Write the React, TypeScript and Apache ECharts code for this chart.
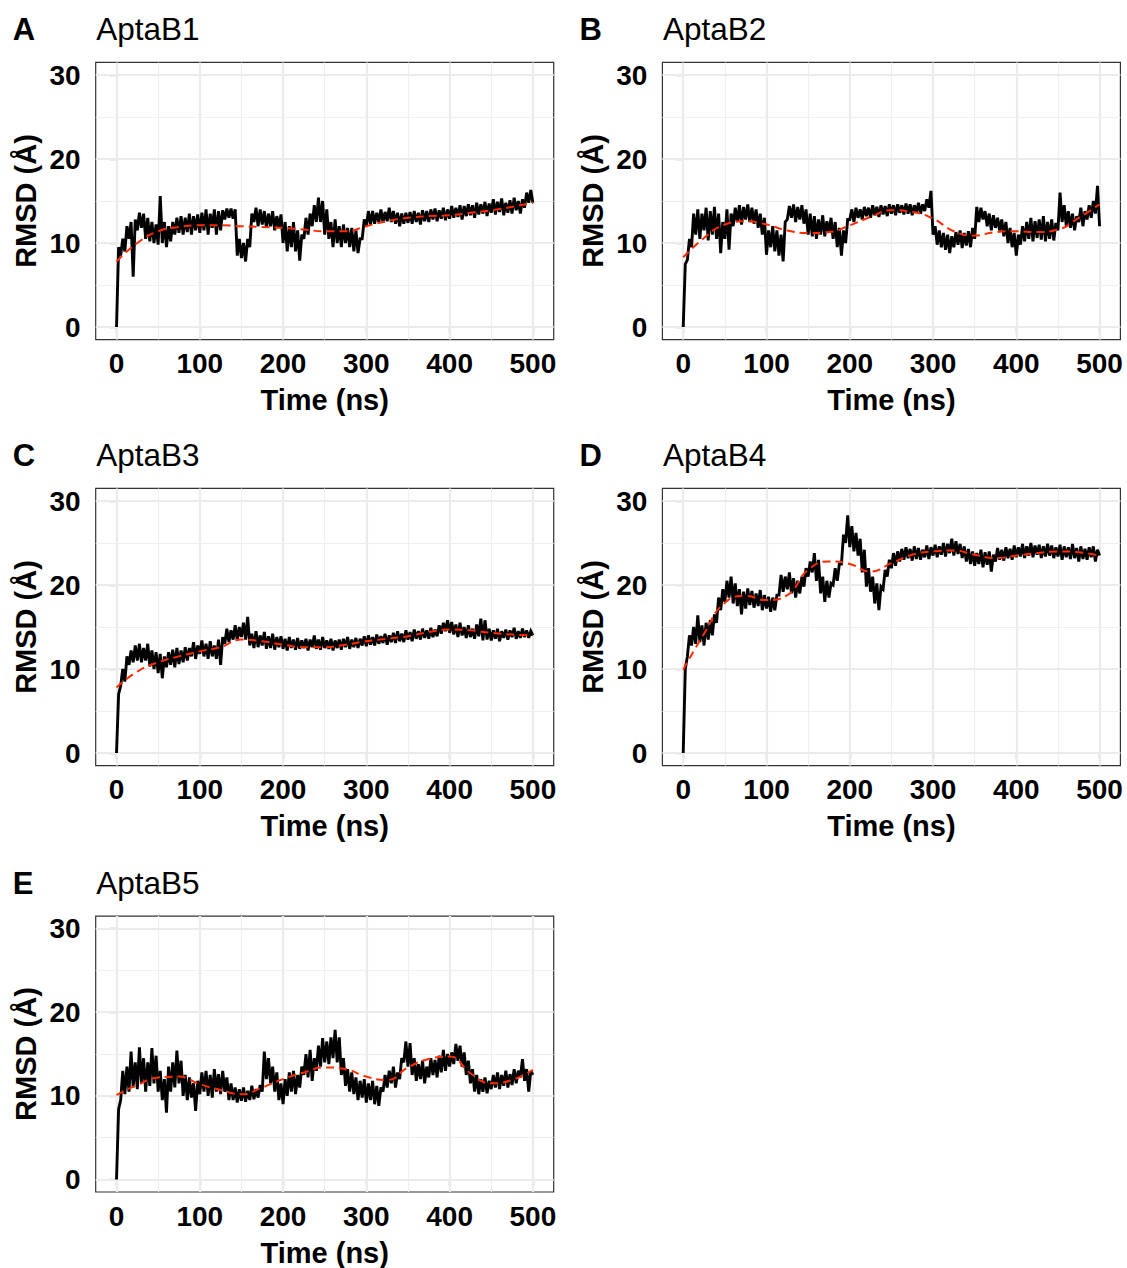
import React, { useEffect, useRef } from "react";
import * as echarts from "echarts";

// Trajectories are read as a noisy band: lower edge at t = 0,5,...,500 ns,
// upper edge at t = 2.5,7.5,...,497.5 ns.
const TIME_STEP = 5;
const X_TICKS = [0, 100, 200, 300, 400, 500];
const Y_TICKS = [0, 10, 20, 30];
const X_GRID_MAJOR = [0, 100, 200, 300, 400, 500];
const X_GRID_MINOR = [50, 150, 250, 350, 450];
const Y_GRID_MAJOR = [0, 10, 20, 30];
const Y_GRID_MINOR = [5, 15, 25];

// ---------- AptaB1 ----------
const LO_A = [
  0, 8.5, 9, 10.5, 6, 11.5, 11.8, 10.5, 10.2, 10,
  9.8, 10, 9.5, 10.2, 11, 11.2, 11, 11.3, 11, 11.5,
  11.2, 11.5, 11, 11.8, 11, 11.5, 12.8, 13, 12.9, 8.5,
  8.2, 7.8, 9.5, 12.5, 12, 12.2, 11.8, 12, 11.5, 11.8,
  10, 9, 9.5, 9, 7.9, 10.5, 11, 12, 12.5, 12.5,
  11, 10.5, 9.5, 10, 9.5, 10, 9.5, 9, 8.8, 10.5,
  12, 12.2, 12.3, 12.5, 12.4, 12.6, 12.5, 12.3, 12, 12.3,
  12.4, 12.3, 12.5, 12.2, 12.6, 12.5, 12.8, 12.6, 12.9, 12.7,
  12.9, 13, 13.1, 12.8, 13.2, 13.3, 13, 13.4, 13.5, 13.2,
  13.6, 13.4, 13.7, 13.3, 13.6, 13.5, 13.9, 13.5, 14.2, 14.8,
  14.8,
];
const HI_A = [
  9.5, 10.5, 12, 12.5, 12.8, 13.6, 13.5, 13, 12.5, 12.2,
  15.6, 12.5, 12, 12.5, 13, 13.2, 13, 13.5, 13.2, 13.4,
  13.6, 14, 13.5, 14, 13.8, 13.9, 14.1, 14.1, 14, 10.5,
  10, 10.5, 13.5, 14.2, 14, 13.8, 13.5, 13.8, 13.2, 13.4,
  12.5, 12, 12.5, 11.5, 11, 13, 13.5, 14.5, 15.4, 15,
  14, 12.5, 12.8, 12, 12.2, 11.8, 11.8, 11.5, 10.5, 12.8,
  13.8, 13.8, 13.6, 14, 13.7, 14.2, 13.8, 13.6, 13.5, 13.6,
  13.7, 13.8, 13.6, 13.9, 13.8, 14, 14.1, 13.9, 14.2, 14,
  14.4, 14.2, 14.5, 14.4, 14.6, 14.5, 14.8, 14.6, 14.9, 14.7,
  15.2, 14.9, 15.3, 14.8, 15.1, 15.4, 15, 15.2, 16, 16.3,
];

// ---------- AptaB2 ----------
const LO_B = [
  0, 8, 9.5, 11, 10.5, 11.5, 10.3, 11, 10.5, 8.8,
  10.5, 9.2, 12, 12.5, 12.2, 12.8, 12.5, 12.3, 11.8, 11,
  8.6, 9.5, 9, 8.5, 7.8, 12.8, 13, 12.5, 12.8, 12.3,
  11, 10.8, 10.5, 11, 10.8, 11.2, 10.5, 9.5, 8.5, 10,
  12.8, 12.5, 13, 12.8, 13.2, 13, 13.3, 13.1, 13.4, 13.2,
  13.5, 13.3, 13.6, 13.4, 13.5, 13.3, 13.6, 13.5, 13.8, 14.2,
  11, 9.8, 9.5, 9.2, 8.8, 9.5, 9.8, 9.4, 9.7, 9.5,
  10.5, 12.5, 12.8, 12, 11.5, 11.8, 11.5, 10.8, 10, 9.5,
  8.5, 9.8, 10.2, 10.5, 10.2, 10.6, 10.4, 10.2, 10.5, 10.3,
  11.5, 12.5, 12, 11.8, 11.5, 12.5, 12, 12.8, 13, 13.5,
  12,
];
const HI_B = [
  7.5, 10.5, 13.5, 14, 13.5, 14.2, 13.8, 14.3, 13.5, 12.5,
  14, 13.5, 14.2, 14.5, 14.3, 14.6, 14.2, 14, 13.5, 13,
  11.5, 12, 11.5, 11, 12.5, 14.4, 14.6, 14.3, 14.5, 14,
  13.5, 13.2, 12.8, 13.3, 12.6, 13, 12.5, 11.8, 11.5, 12.8,
  14, 14.2, 14, 14.3, 14.2, 14.5, 14.3, 14.5, 14.4, 14.6,
  14.5, 14.6, 14.5, 14.7, 14.6, 14.5, 14.8, 14.6, 15.2, 16.2,
  12, 11.5, 11.2, 11, 10.8, 11.3, 11.5, 11.2, 11.4, 11.8,
  14.3, 14.2, 13.8, 13.5, 13.3, 13, 12.8, 12.5, 11.8, 11.2,
  11, 12, 12.5, 13, 12.6, 12.8, 13.2, 12.5, 12.8, 12.4,
  16, 14.5, 13.8, 13.5, 13.2, 14.2, 13.8, 14.5, 15, 16.8,
];

// ---------- AptaB3 ----------
const LO_C = [
  0, 8, 8.5, 10.5, 10.8, 11, 10.8, 11, 10.3, 10,
  9.5, 8.9, 10.2, 10.5, 10.2, 10.6, 10.8, 11, 11.5, 11.2,
  11.8, 11.5, 11.2, 11.5, 11.2, 10.5, 13, 13.2, 13.5, 13.4,
  13.8, 13.5, 12.8, 12.5, 12.6, 12.8, 12.4, 12.5, 12.3, 12.6,
  12.4, 12.2, 12.5, 12.3, 12.4, 12.5, 12.2, 12.6, 12.4, 12.3,
  12.5, 12.4, 12.2, 12.5, 12.3, 12.6, 12.4, 12.6, 12.5, 12.8,
  12.7, 12.9, 12.8, 13, 13.1, 12.9, 13.2, 13.1, 13.3, 13.2,
  13.5, 13.3, 13.6, 13.5, 13.7, 13.6, 13.8, 13.9, 14.2, 14.5,
  14.3, 14.1, 13.8, 14, 13.7, 13.8, 13.6, 13.9, 13.4, 13.5,
  13.4, 13.6, 13.3, 13.7, 13.5, 13.8, 13.6, 13.7, 13.8, 13.7,
  14,
];
const HI_C = [
  7, 10, 11.5, 12.2, 12.8, 13, 12.5, 13, 12.2, 12,
  11.8, 11.5, 12, 12.3, 12.5, 12.2, 12.6, 12.5, 13.2, 12.8,
  13.4, 13, 13.3, 12.8, 13.5, 13.8, 14.8, 14.6, 15.2, 15,
  15.5, 16.2, 14.2, 14.5, 14, 14.4, 13.9, 14.2, 13.8, 13.9,
  13.6, 13.8, 13.5, 13.7, 13.4, 13.6, 13.5, 14, 13.5, 13.8,
  13.4, 13.6, 13.4, 13.5, 13.6, 13.8, 13.5, 13.7, 13.6, 13.9,
  14, 13.8, 14.1, 13.9, 14.2, 14, 14.3, 14.5, 14.2, 14.6,
  14.4, 14.7, 14.5, 14.8, 14.6, 14.9, 14.7, 15.2, 15.5, 15.8,
  15.6, 15.3, 15.5, 15, 15.2, 14.8, 15.3, 16, 15.8, 14.8,
  14.6, 14.8, 14.5, 14.7, 14.6, 14.9, 14.5, 14.8, 14.6, 14.5,
];

// ---------- AptaB4 ----------
const LO_D = [
  0, 11.5, 12.8, 13, 13.2, 12.8, 13.5, 14, 15.5, 17,
  18, 18.5, 17.8, 17.5, 16.5, 17.2, 17.6, 17.3, 17.5, 17,
  17.2, 16.8, 17, 18.8, 19.2, 19.5, 19, 18.5, 19, 19.8,
  21, 21.5, 20.5, 19, 18, 18.5, 20, 20.5, 22.5, 25,
  24.5, 24, 23.5, 21.5, 19.8, 19.2, 17.8, 17, 19.5, 21,
  22, 22.3, 22.8, 23, 23.2, 22.9, 23.1, 23, 23.3, 23.1,
  23.5, 23.3, 23.6, 23.4, 23.8, 23.5, 23.7, 23.2, 22.8, 22.5,
  22.3, 22.5, 22.1, 22.4, 21.6, 22.8, 23, 22.9, 23.2, 23,
  23.3, 23.4, 23.2, 23.5, 23.3, 23.6, 23.2, 23.4, 23.5, 23.2,
  23.4, 23, 23.3, 23.1, 23.2, 22.8, 23.1, 23, 23.3, 22.8,
  23.5,
];
const HI_D = [
  10, 14, 15, 16.4, 15.2, 15.5, 15.8, 16.5, 18.5, 19.5,
  20.5, 21, 20.2, 19.5, 19.2, 19.6, 19.3, 19, 19.4, 18.8,
  18.6, 18.5, 18.8, 21.2, 21, 21.5, 20.8, 20.5, 21, 22,
  22.8, 23.8, 23, 21, 20.5, 20.2, 22, 22.5, 26, 28.3,
  27, 26.2, 25.5, 24.2, 22, 21, 20.2, 19.8, 21.8, 23,
  23.8, 24, 24.3, 24.5, 24.3, 24.6, 24.4, 24.2, 24.7, 24.5,
  24.8, 24.6, 25, 24.9, 25.5, 25.2, 24.9, 24.6, 24.3, 24,
  23.8, 24.2, 23.9, 24, 23.6, 24.4, 24.2, 24.5, 24.3, 24.7,
  24.5, 24.9, 24.6, 25, 24.7, 24.8, 24.6, 24.9, 24.7, 24.5,
  24.8, 24.6, 24.5, 24.9, 24.4, 24.6, 24.3, 24.5, 24.6, 24.2,
];

// ---------- AptaB5 ----------
const LO_E = [
  0, 9.5, 10.2, 10.5, 11, 10.8, 11.5, 10.5, 11.2, 11.5,
  10.5, 9.5, 8, 10.5, 11, 11.5, 10, 9.5, 9.8, 8.2,
  10.2, 10.5, 10, 9.8, 10.5, 10.2, 10.5, 9.5, 9.5, 9.2,
  9.4, 9.3, 9.5, 9.6, 9.8, 10.5, 12, 11.5, 10.5, 9.5,
  9, 10, 10.5, 10.2, 11, 12.5, 12.2, 11.8, 13, 13.5,
  14, 13.8, 14.5, 14, 12.5, 11.2, 10.5, 10.2, 9.5, 9.8,
  9.2, 9.5, 9, 8.8, 10.5, 11, 11.5, 11, 12, 14,
  13.5, 12.5, 11.8, 12, 11.5, 12.2, 12.5, 12.2, 12.8, 13,
  13.5, 13.8, 14.2, 13.5, 12.5, 11.5, 10.5, 10.2, 10.5, 10.3,
  10.8, 11, 10.8, 11.2, 11, 11.3, 11.5, 12.2, 11.8, 10.5,
  12.5,
];
const HI_E = [
  8.4, 13, 13.5, 15.3, 14, 15.8, 14.5, 14, 15.7, 14.8,
  13, 12, 13.5, 14, 15.4, 14.2, 12.5, 12.2, 11.5, 11.8,
  12.8, 13, 12.5, 13.2, 12.6, 13, 12.2, 11.5, 11, 10.8,
  11, 10.6, 11.2, 10.8, 11.3, 15.3, 14.5, 13.5, 12.8, 11.5,
  12, 12.8, 13, 12.5, 13.5, 15, 15.5, 14.5, 16, 16.9,
  16.5, 17, 17.9, 17, 14.5, 13.2, 12.8, 12.2, 11.8, 12,
  11.5, 11.8, 11.2, 11, 12.5, 13, 13.5, 12.8, 14.5, 16.5,
  16.3, 14.5, 13.8, 14.2, 13.5, 14.5, 14.3, 14.8, 15.5, 15,
  15.2, 16.2, 16, 15.2, 14.2, 13.2, 12.5, 12, 12.2, 11.8,
  12.5, 12.8, 12.5, 13, 12.6, 13.2, 13, 14.4, 13.2, 13,
];

// Smoothed trend (red dashed)
const FIT_T = [0, 25, 50, 75, 100, 125, 150, 175, 200, 225, 250, 275, 300, 325, 350, 375, 400, 425, 450, 475, 500];
const FIT_A = [7.8, 10, 11.4, 11.9, 12.1, 12.1, 12.0, 11.9, 11.8, 11.6, 11.4, 11.4, 12.0, 12.6, 13.0, 13.2, 13.3, 13.6, 13.9, 14.3, 14.8];
const FIT_B = [8.3, 10.6, 12.2, 12.6, 12.2, 11.5, 11.2, 11.3, 12.1, 13.1, 13.9, 13.7, 12.9, 11.4, 10.9, 11.3, 11.4, 11.3, 11.6, 13.0, 14.6];
const FIT_C = [7.8, 9.7, 10.8, 11.5, 12.1, 12.6, 13.5, 13.3, 12.9, 12.6, 12.6, 12.9, 13.3, 13.6, 13.9, 14.4, 14.7, 14.6, 14.3, 14.1, 14.0];
const FIT_D = [9.9, 14.2, 17.9, 18.7, 18.2, 18.8, 21.8, 22.8, 22.5, 21.6, 22.6, 23.6, 24.0, 24.1, 23.6, 23.2, 23.5, 23.8, 24.0, 23.9, 23.5];
const FIT_E = [10.1, 11.3, 12.2, 12.3, 11.4, 10.7, 10.2, 11.0, 12.0, 12.8, 13.4, 13.2, 12.3, 11.9, 13.4, 14.4, 14.7, 12.7, 11.5, 11.9, 13.1];

const LETTERS = ["A", "B", "C", "D", "E"];
const NAMES = ["AptaB1", "AptaB2", "AptaB3", "AptaB4", "AptaB5"];

const FONT = "'Liberation Sans', Arial, Helvetica, sans-serif";

// Interleave band edges into a single trajectory polyline
function toTrajectory(lo: number[], hi: number[]) {
  const out: number[][] = [];
  for (let i = 0; i < lo.length; i++) {
    out.push([i * TIME_STEP, lo[i]]);
    if (i < hi.length) out.push([i * TIME_STEP + TIME_STEP / 2, hi[i]]);
  }
  return out;
}

const PANELS = [
  { lo: LO_A, hi: HI_A, fit: FIT_A, left: 95.7, top: 62.4 },
  { lo: LO_B, hi: HI_B, fit: FIT_B, left: 662.4, top: 62.4 },
  { lo: LO_C, hi: HI_C, fit: FIT_C, left: 95.7, top: 488.4 },
  { lo: LO_D, hi: HI_D, fit: FIT_D, left: 662.4, top: 488.4 },
  { lo: LO_E, hi: HI_E, fit: FIT_E, left: 95.7, top: 916.1 },
];

const GRID_W = 458;
const GRID_H = 277.2;

function buildOption() {
  const grid: any[] = [];
  const xAxis: any[] = [];
  const yAxis: any[] = [];
  const series: any[] = [];
  const graphic: any[] = [];

  PANELS.forEach((p, i) => {
    grid.push({
      left: p.left,
      top: p.top,
      width: GRID_W,
      height: GRID_H,
      show: true,
      borderColor: "#333333",
      borderWidth: 1.2,
      backgroundColor: "#ffffff",
      containLabel: false,
    });
    xAxis.push({
      type: "value",
      gridIndex: i,
      min: -25,
      max: 525,
      splitLine: { show: false },
      axisLine: { show: false },
      axisTick: {
        show: true,
        length: 6,
        customValues: X_TICKS,
        lineStyle: { color: "#333333", width: 1.2 },
      },
      axisLabel: {
        customValues: X_TICKS,
        margin: 10,
        color: "#000",
        fontSize: 28,
        fontWeight: "bold",
        fontFamily: FONT,
      },
      name: "Time (ns)",
      nameLocation: "middle",
      nameGap: 46,
      nameTextStyle: { color: "#000", fontSize: 29, fontWeight: "bold", fontFamily: FONT },
    });
    yAxis.push({
      type: "value",
      gridIndex: i,
      min: -1.5,
      max: 31.5,
      splitLine: { show: false },
      axisLine: { show: false },
      axisTick: {
        show: true,
        length: 7,
        customValues: Y_TICKS,
        lineStyle: { color: "#333333", width: 1.2 },
      },
      axisLabel: {
        customValues: Y_TICKS,
        margin: 15,
        color: "#000",
        fontSize: 28,
        fontWeight: "bold",
        fontFamily: FONT,
      },
      name: "RMSD (Å)",
      nameLocation: "middle",
      nameGap: 55,
      nameTextStyle: { color: "#000", fontSize: 29, fontWeight: "bold", fontFamily: FONT },
    });

    const gridLines: any[] = [];
    X_GRID_MAJOR.forEach((v) => gridLines.push({ xAxis: v, lineStyle: { color: "#ebebeb", width: 2.2, type: "solid" } }));
    X_GRID_MINOR.forEach((v) => gridLines.push({ xAxis: v, lineStyle: { color: "#efefef", width: 1.2, type: "solid" } }));
    Y_GRID_MAJOR.forEach((v) => gridLines.push({ yAxis: v, lineStyle: { color: "#ebebeb", width: 2.2, type: "solid" } }));
    Y_GRID_MINOR.forEach((v) => gridLines.push({ yAxis: v, lineStyle: { color: "#efefef", width: 1.2, type: "solid" } }));

    series.push({
      type: "line",
      xAxisIndex: i,
      yAxisIndex: i,
      data: [],
      z: 1,
      silent: true,
      markLine: {
        silent: true,
        z: 1,
        animation: false,
        symbol: ["none", "none"],
        label: { show: false },
        data: gridLines,
      },
    });
    series.push({
      type: "line",
      xAxisIndex: i,
      yAxisIndex: i,
      data: toTrajectory(p.lo, p.hi),
      showSymbol: false,
      symbol: "none",
      z: 2,
      lineStyle: { color: "#000000", width: 2.9, join: "miter", miterLimit: 3 },
    });
    series.push({
      type: "line",
      xAxisIndex: i,
      yAxisIndex: i,
      data: FIT_T.map((t, k) => [t, p.fit[k]]),
      showSymbol: false,
      symbol: "none",
      smooth: true,
      z: 3,
      lineStyle: { color: "#ff2a00", width: 2, type: [8, 5] },
    });

    const cy = p.top - 33;
    graphic.push({
      type: "text",
      x: p.left - 83,
      y: cy,
      style: {
        text: LETTERS[i],
        font: `bold 31px ${FONT}`,
        fill: "#000",
        textVerticalAlign: "middle",
        verticalAlign: "middle",
      },
    });
    graphic.push({
      type: "text",
      x: p.left + 0.5,
      y: cy,
      style: {
        text: NAMES[i],
        font: `31.5px ${FONT}`,
        fill: "#000",
        textVerticalAlign: "middle",
        verticalAlign: "middle",
      },
    });
  });

  return {
    animation: false,
    backgroundColor: "#ffffff",
    grid,
    xAxis,
    yAxis,
    series,
    graphic,
  };
}

export default function App() {
  const ref = useRef<HTMLDivElement>(null);
  useEffect(() => {
    if (!ref.current) return;
    const chart = echarts.init(ref.current, undefined, { renderer: "svg" });
    chart.setOption(buildOption() as any);
    return () => chart.dispose();
  }, []);
  return (
    <div
      ref={ref}
      style={{ position: "absolute", left: 0, top: 0, width: 1127, height: 1268, background: "#fff" }}
    />
  );
}
